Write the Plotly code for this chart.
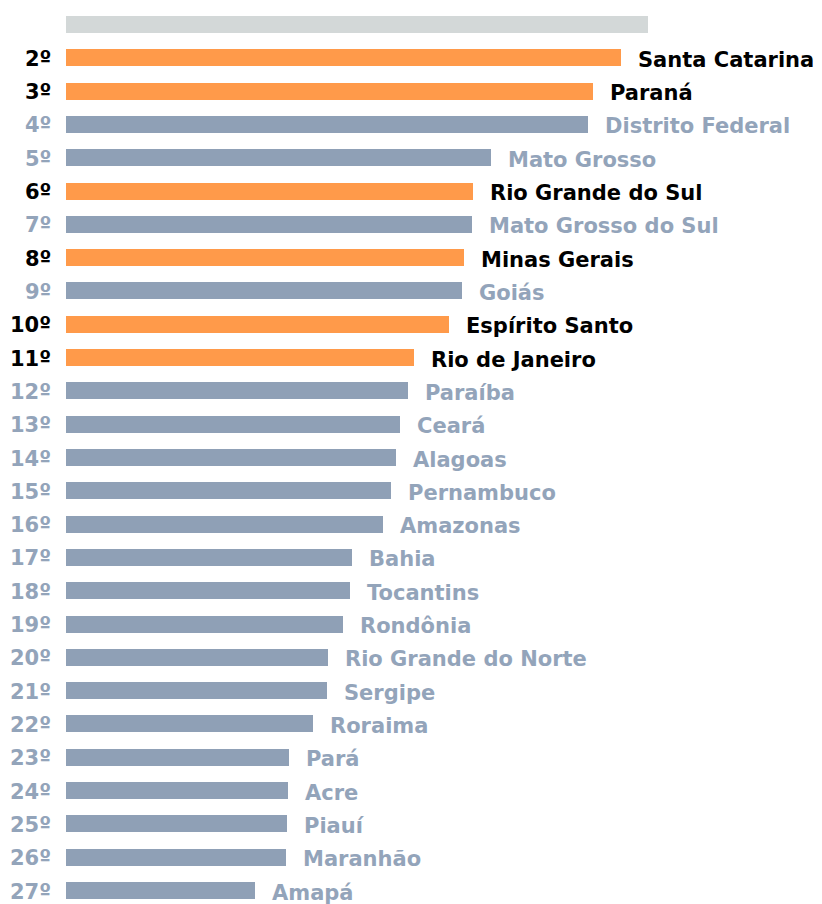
import plotly.graph_objects as go

positions = list(range(1, 28))
rank_labels = ["", "2º", "3º", "4º", "5º", "6º", "7º", "8º", "9º", "10º", "11º", "12º", "13º",
               "14º", "15º", "16º", "17º", "18º", "19º", "20º", "21º", "22º", "23º", "24º",
               "25º", "26º", "27º"]
states = ["", "Santa Catarina", "Paraná", "Distrito Federal", "Mato Grosso", "Rio Grande do Sul",
          "Mato Grosso do Sul", "Minas Gerais", "Goiás", "Espírito Santo", "Rio de Janeiro",
          "Paraíba", "Ceará", "Alagoas", "Pernambuco", "Amazonas", "Bahia", "Tocantins",
          "Rondônia", "Rio Grande do Norte", "Sergipe", "Roraima", "Pará", "Acre", "Piauí",
          "Maranhão", "Amapá"]
values = [582, 555, 527, 522, 425, 407, 406, 398, 396, 383, 348, 342, 334, 330, 325, 317,
          286, 284, 277, 262, 261, 247, 223, 222, 221, 220, 189]
group = ["top", "hi", "hi", "lo", "lo", "hi", "lo", "hi", "lo", "hi", "hi", "lo", "lo", "lo",
         "lo", "lo", "lo", "lo", "lo", "lo", "lo", "lo", "lo", "lo", "lo", "lo", "lo"]

bar_colors = {"top": "#D3D8D8", "hi": "#FF9A4A", "lo": "#8FA0B6"}
text_colors = {"top": "#D3D8D8", "hi": "#000000", "lo": "#93A4BA"}

FONT = "Verdana, DejaVu Sans, sans-serif"

fig = go.Figure()
fig.add_trace(go.Bar(
    x=values, y=positions, orientation="h",
    marker=dict(color=[bar_colors[g] for g in group], line=dict(width=0)),
    width=0.51, hoverinfo="skip",
))

annotations = []
for i, (p, r, s, v, g) in enumerate(zip(positions, rank_labels, states, values, group)):
    if r:
        annotations.append(dict(
            x=0, y=p, xref="x", yref="y", text="<b>" + r + "</b>", showarrow=False,
            xanchor="right", yanchor="middle", xshift=-13, yshift=-1,
            font=dict(family=FONT, size=21, color=text_colors[g]),
        ))
    if s:
        annotations.append(dict(
            x=v, y=p, xref="x", yref="y", text="<b>" + s + "</b>", showarrow=False,
            xanchor="left", yanchor="middle", xshift=15, yshift=-2,
            font=dict(family=FONT, size=21, color=text_colors[g]),
        ))

fig.update_layout(
    width=814, height=896,
    margin=dict(l=58, r=0, t=0, b=0),
    paper_bgcolor="white", plot_bgcolor="white",
    showlegend=False, bargap=0,
    xaxis=dict(range=[0, 756], visible=False, fixedrange=True),
    yaxis=dict(range=[27.405, 0.5047], visible=False, fixedrange=True),
    annotations=annotations,
)

fig.write_html("out.html")
